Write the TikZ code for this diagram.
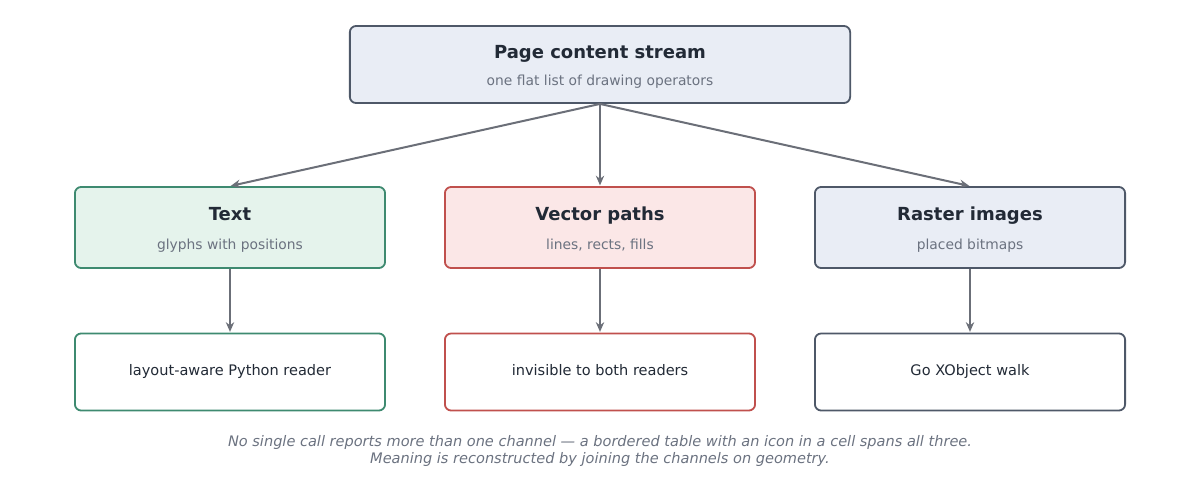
\documentclass[tikz,border=0pt]{standalone}
\usepackage{fontspec}
\setmainfont{DejaVu Sans}
\usetikzlibrary{arrows.meta}
\definecolor{inkc}{HTML}{222A36}
\definecolor{subc}{HTML}{6B7280}
\definecolor{arrc}{HTML}{6B6F78}
\definecolor{slatec}{HTML}{4E5868}
\definecolor{slatef}{HTML}{E9EDF5}
\definecolor{greenc}{HTML}{3E8A70}
\definecolor{greenf}{HTML}{E5F3EC}
\definecolor{redc}{HTML}{C0504D}
\definecolor{redf}{HTML}{FBE7E7}
\tikzset{
  box/.style={draw, rounded corners=4.5pt, line width=1.3pt, minimum width=3.1in, minimum height=0.81in, inner sep=0pt},
  ttl/.style={anchor=base, text=inkc, font=\fontsize{13}{15}\selectfont\bfseries},
  sub/.style={anchor=base, text=subc, font=\fontsize{10}{12}\selectfont},
  leaf/.style={text=inkc, text height=7.6pt, text depth=2pt, font=\fontsize{10.5}{12}\selectfont},
  flow/.style={-{Stealth[length=7pt,width=6pt]}, draw=arrc, line width=1.45pt, shorten >=0.5pt},
}
\begin{document}
\begin{tikzpicture}[x=0.01in,y=-0.01in]
\useasboundingbox (0,0) rectangle (1200,500);
% source
\node[box, draw=slatec, fill=slatef, minimum width=5in, minimum height=0.77in] (page) at (600,64.5) {};
\node[ttl] (page-t) at (600,58.5) {Page content stream};
\node[sub] (page-s) at (600,85) {one flat list of drawing operators};
% channels
\node[box, draw=greenc, fill=greenf] (text) at (230,227.5) {};
\node[ttl] (text-t) at (230,220.5) {Text};
\node[sub] (text-s) at (230,249) {glyphs with positions};
\node[box, draw=redc, fill=redf] (vec) at (600,227.5) {};
\node[ttl] (vec-t) at (600,220.5) {Vector paths};
\node[sub] (vec-s) at (600,249) {lines, rects, fills};
\node[box, draw=slatec, fill=slatef] (img) at (970,227.5) {};
\node[ttl] (img-t) at (970,220.5) {Raster images};
\node[sub] (img-s) at (970,249) {placed bitmaps};
% readers
\node[box, draw=greenc, fill=white, minimum height=0.77in, leaf] (pyread) at (230,372) {layout-aware Python reader};
\node[box, draw=redc, fill=white, minimum height=0.77in, leaf] (none) at (600,372) {invisible to both readers};
\node[box, draw=slatec, fill=white, minimum height=0.77in, leaf] (gowalk) at (970,372) {Go XObject walk};
% connectors
\draw[flow] (page.south) -- (text.north);
\draw[flow] (page.south) -- (vec.north);
\draw[flow] (page.south) -- (img.north);
\draw[flow] (text) -- (pyread);
\draw[flow] (vec) -- (none);
\draw[flow] (img) -- (gowalk);
% note
\node[text=subc, font=\fontsize{10.5}{12.5}\selectfont\itshape, align=center] (note) at (600,451)
  {No single call reports more than one channel — a bordered table with an icon in a cell spans all three.\\
   Meaning is reconstructed by joining the channels on geometry.};
\end{tikzpicture}
\end{document}
